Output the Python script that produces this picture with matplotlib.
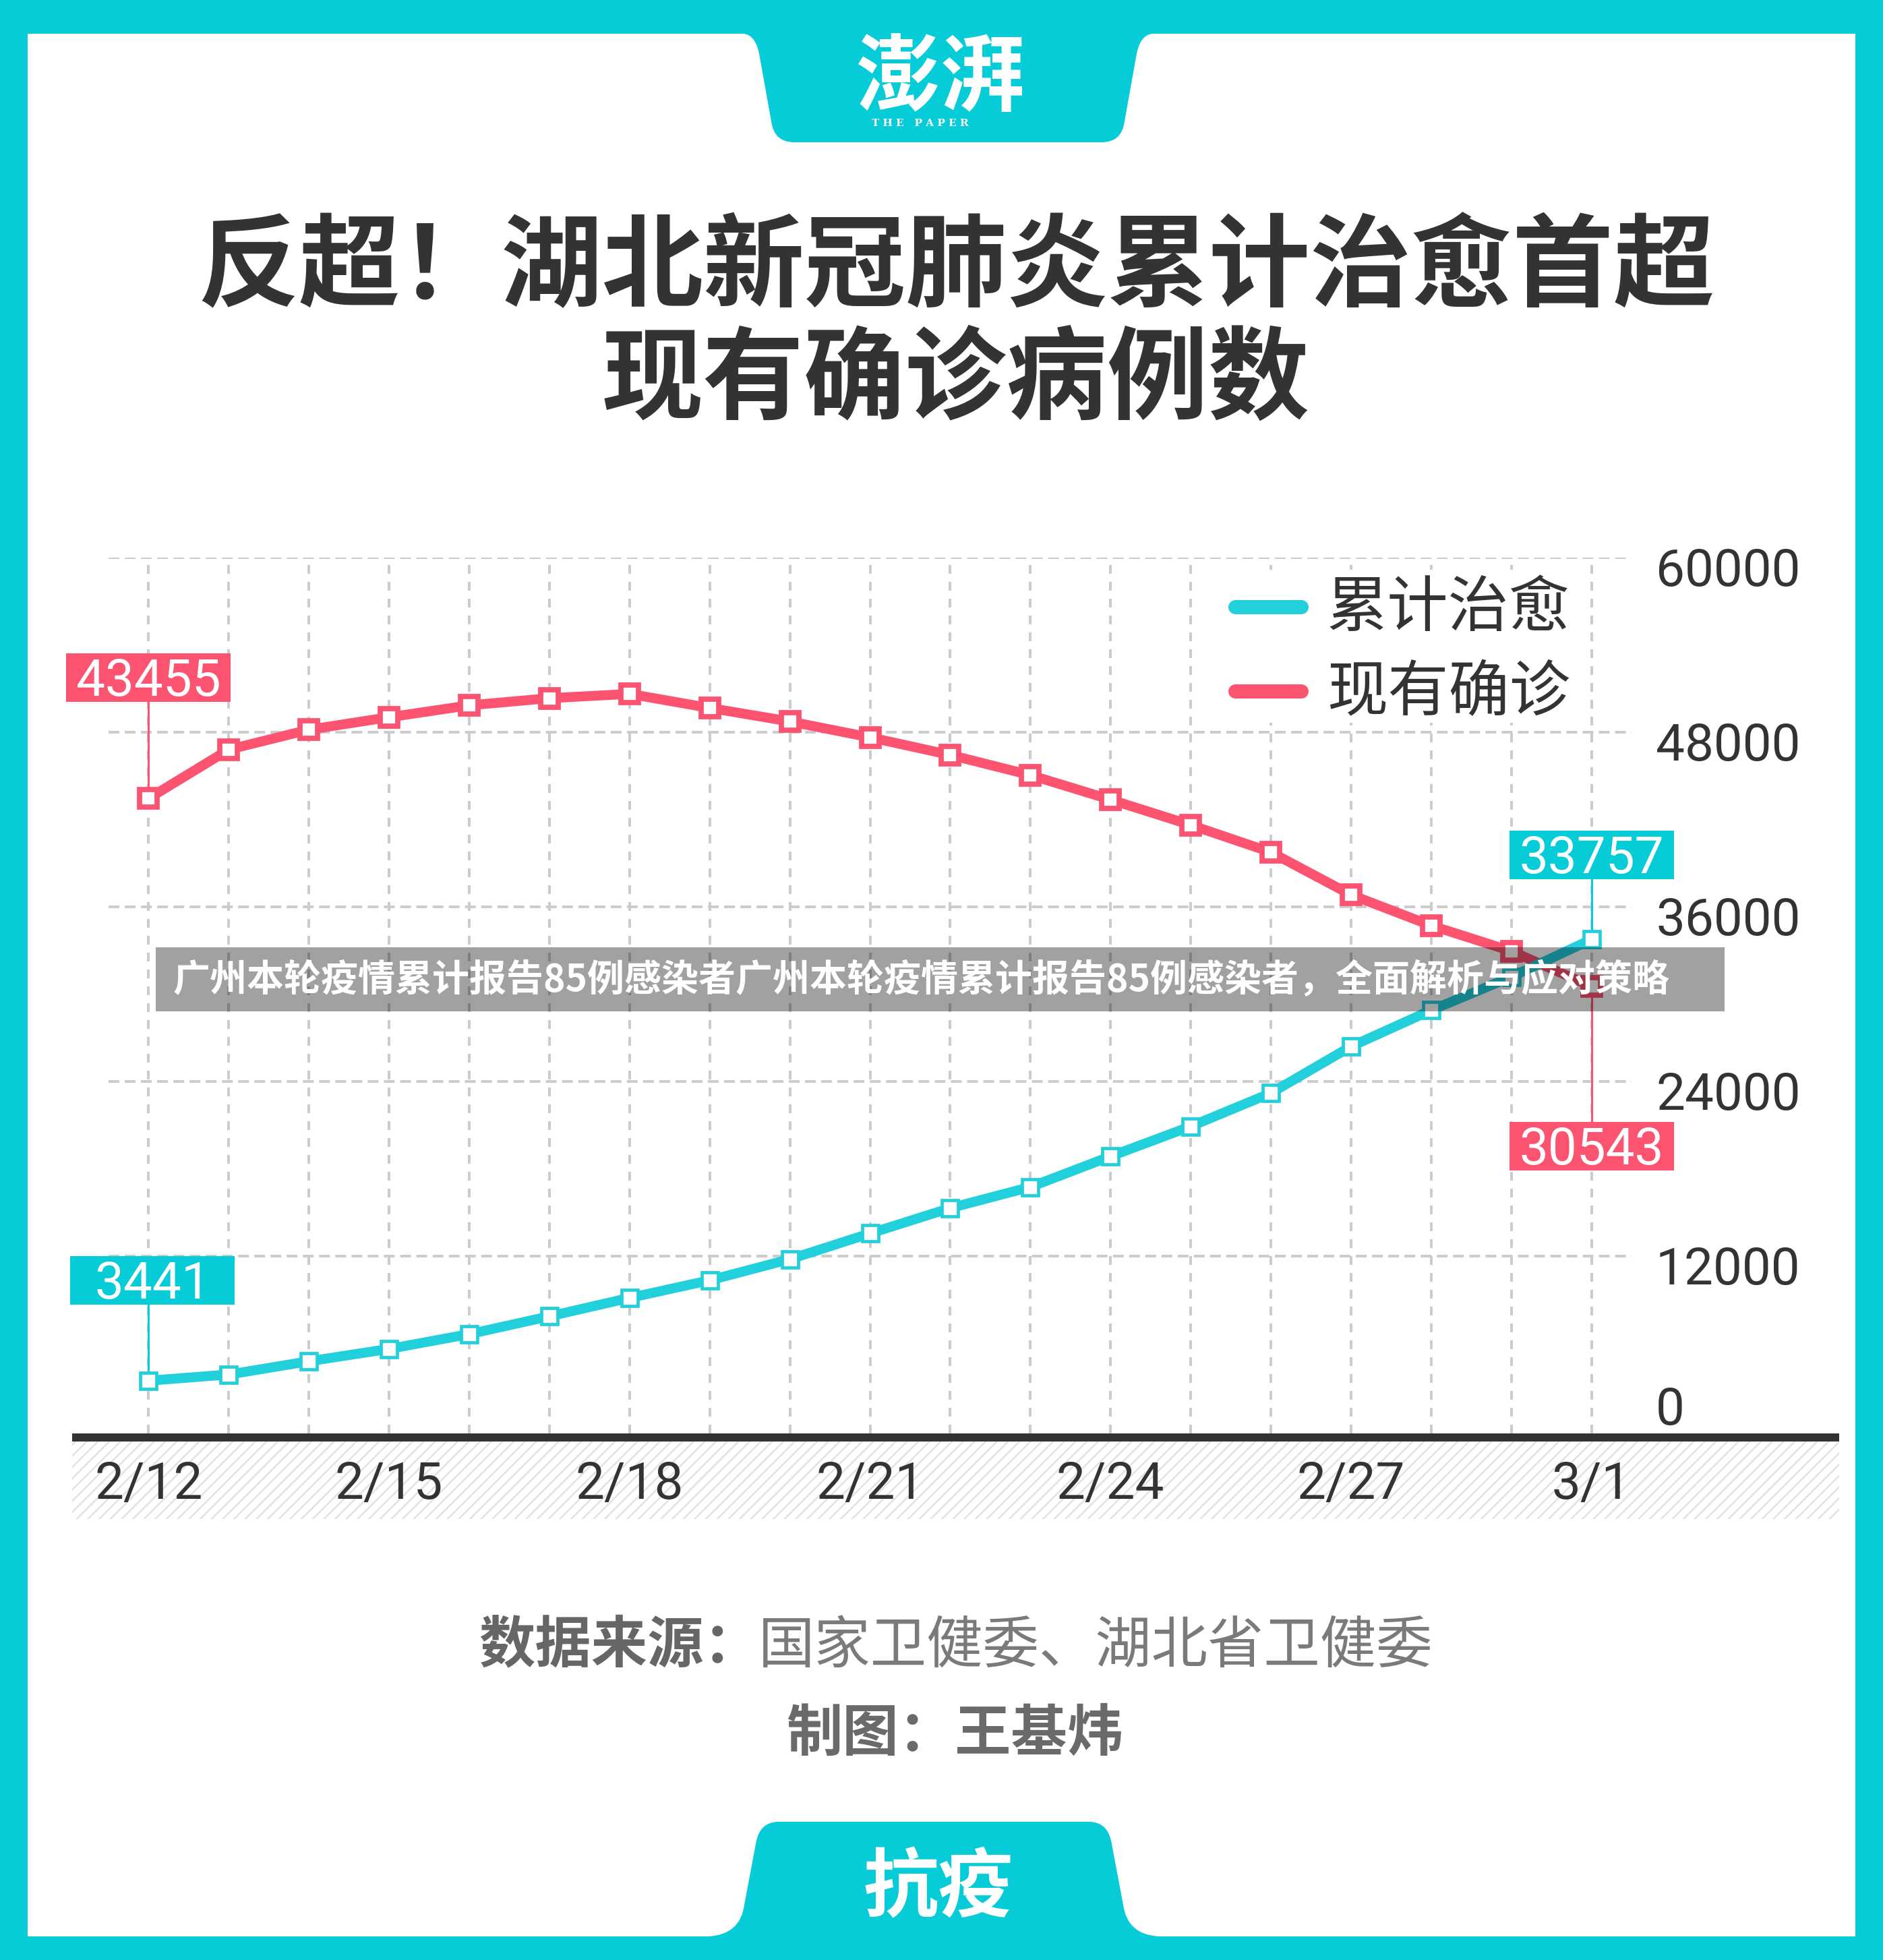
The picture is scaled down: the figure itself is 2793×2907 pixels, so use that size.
import matplotlib
matplotlib.use("Agg")
import matplotlib.pyplot as plt
from matplotlib.patches import Rectangle, PathPatch
from matplotlib.path import Path
from matplotlib.lines import Line2D
from matplotlib.transforms import Affine2D, ScaledTranslation

W, H, DPI = 2793, 2907, 100

# Data (Hubei, Feb 12 - Mar 1)
dates = ["2/12", "2/13", "2/14", "2/15", "2/16", "2/17", "2/18", "2/19", "2/20", "2/21",
         "2/22", "2/23", "2/24", "2/25", "2/26", "2/27", "2/28", "2/29", "3/1"]
cured = [3441, 3862, 4774, 5623, 6639, 7862, 9128, 10337, 11788, 13557,
         15299, 16748, 18854, 20912, 23200, 26403, 28895, 31187, 33757]
current = [43455, 46806, 48175, 49030, 49847, 50338, 50633, 49665, 48739, 47647,
           46439, 45054, 43369, 41625, 39755, 36829, 34715, 32959, 30543]
tick_dates = ["2/12", "2/15", "2/18", "2/21", "2/24", "2/27", "3/1"]
y_ticks = [0, 12000, 24000, 36000, 48000, 60000]
series_names = ["累计治愈", "现有确诊"]

# Style
TEAL = "#06ccd8"
CYAN = "#22d0dc"
RED = "#fc5370"
DARK = "#333333"
GRID = "#cccccc"
CJK = ["Noto Sans CJK SC", "DejaVu Sans"]
NUM = ["Roboto", "DejaVu Sans"]

plt.rcParams["font.family"] = CJK
plt.rcParams["lines.scale_dashes"] = False
plt.rcParams["hatch.linewidth"] = 1.8

fig = plt.figure(figsize=(W / DPI, H / DPI), dpi=DPI)
fig.patch.set_facecolor(TEAL)

# background layer, pixel coords with y pointing down
bg = fig.add_axes([0, 0, 1, 1], zorder=0)
bg.set_xlim(0, W)
bg.set_ylim(H, 0)
bg.axis("off")
bg.add_patch(Rectangle((41, 50), 2711, 2822, fc="white", ec="none"))


def tab(verts, codes):
    bg.add_patch(PathPatch(Path(verts, codes), fc=TEAL, ec="none"))


M, L, C, Z = Path.MOVETO, Path.LINETO, Path.CURVE3, Path.CLOSEPOLY
cx = 1406
tab([(cx - 320, 40), (cx - 303, 50), (cx - 284, 52), (cx - 279, 85), (cx - 262, 180),
     (cx - 258, 211), (cx - 228, 211), (cx + 228, 211), (cx + 258, 211), (cx + 262, 180),
     (cx + 279, 85), (cx + 284, 52), (cx + 303, 50), (cx + 320, 40), (cx - 320, 40)],
    [M, L, C, C, L, C, C, L, C, C, L, C, C, L, Z])
cx = 1385
tab([(cx - 345, 2885), (cx - 335, 2872), (cx - 287, 2870), (cx - 281, 2825), (cx - 264, 2735),
     (cx - 259, 2702), (cx - 230, 2702), (cx + 230, 2702), (cx + 259, 2702), (cx + 264, 2735),
     (cx + 281, 2825), (cx + 287, 2870), (cx + 335, 2872), (cx + 345, 2885), (cx - 345, 2885)],
    [M, L, C, C, L, C, C, L, C, C, L, C, C, L, Z])

bg.text(1395, 118, "澎湃", ha="center", va="center", fontsize=90, fontweight="bold", color="white")
bg.text(1365, 183, "T H E   P A P E R", ha="center", va="center", fontsize=11,
        fontweight="bold", color="white", family="DejaVu Serif")
bg.text(1392, 2802, "抗疫", ha="center", va="center", fontsize=80, fontweight="bold", color="white")

# title
bg.text(1418, 399, "反超！湖北新冠肺炎累计治愈首超", ha="center", va="center",
        fontsize=108, fontweight="bold", color=DARK)
bg.text(1418, 566, "现有确诊病例数", ha="center", va="center",
        fontsize=108, fontweight="bold", color=DARK)

# footer
bg.text(710, 2442, "数据来源：", ha="left", va="center", fontsize=60, fontweight="bold", color="#666666")
bg.text(1125, 2442, "国家卫健委、湖北省卫健委", ha="left", va="center", fontsize=60, color="#7a7a7a")
bg.text(1416, 2572, "制图：王基炜", ha="center", va="center", fontsize=60, fontweight="bold", color="#6a6a6a")

# baseline and hatched strip under the plot
bg.add_patch(Rectangle((107, 2126), 2621, 12, fc=DARK, ec="none"))
bg.add_patch(Rectangle((107, 2138), 2621, 115, fc="white", ec="#e2e2e2", lw=0, hatch="//"))

# chart
ax = fig.add_axes([161 / W, 1 - 2126 / H, (2420 - 161) / W, (2126 - 827) / H], zorder=1)
ax.set_facecolor("none")
x = list(range(len(dates)))

ax.plot(x, current, color=RED, lw=10.5, marker="s", ms=18.2, mew=5.6, mfc="white", mec=RED,
        zorder=3, clip_on=False)
ax.plot(x, cured, color=CYAN, lw=10.5, marker="s", ms=16.7, mew=3.4, mfc="white", mec=CYAN,
        zorder=4, clip_on=False)


def value_tag(i, v, color, dy, dx=0):
    # box of fixed pixel size, dy pixels above (or below) the point
    off = Affine2D() + ScaledTranslation(i, v, ax.transData)
    ax.add_patch(Rectangle((dx - 122, dy - 36), 244, 72, transform=off, fc=color, ec="none",
                           clip_on=False, zorder=5))
    end = dy - 36 if dy > 0 else dy + 36
    ax.add_line(Line2D([0, 0], [0, end], transform=off, color=color, lw=2.2, clip_on=False, zorder=2))
    ax.text(dx, dy - 27, f"{v}", transform=off, ha="center", va="baseline", fontsize=55,
            color="white", family=NUM, zorder=6)


value_tag(0, current[0], RED, 179)
value_tag(0, cured[0], TEAL, 149, dx=6)
value_tag(len(x) - 1, cured[-1], TEAL, 125)
value_tag(len(x) - 1, current[-1], RED, -237)

ax.set_xlim(-0.5, len(x) - 0.5)
ax.set_ylim(-185, 60000)
ax.set_xticks(x)
ax.set_xticklabels([d if d in tick_dates else "" for d in dates], fontsize=55, color=DARK, family=NUM)
for lab in ax.get_xticklabels():
    lab.set_va("baseline")
ax.tick_params(axis="x", length=0, pad=69.8)
ax.set_yticks(y_ticks[1:])
ax.tick_params(axis="y", length=0, labelleft=False, labelright=False)
ax.grid(axis="y", color=GRID, lw=2.9, linestyle=(0, (11.5, 5.8)))
ax.grid(axis="x", color=GRID, lw=2.9, linestyle=(0, (9.4, 8.6)))
for s in ax.spines.values():
    s.set_visible(False)

ytrans = ax.get_yaxis_transform()
for v in y_ticks:
    dy = 9.5 if v == 0 else -41.5
    ax.text(1 + 36 / 2259, v, f"{v}", ha="left", va="baseline", fontsize=55, color=DARK, family=NUM,
            transform=ytrans + ScaledTranslation(0, dy / DPI, fig.dpi_scale_trans), clip_on=False)

# overlay layer: legend and banner
fg = fig.add_axes([0, 0, 1, 1], zorder=3)
fg.set_xlim(0, W)
fg.set_ylim(H, 0)
fg.axis("off")
fg.patch.set_alpha(0)

fg.add_patch(Rectangle((1800, 845), 540, 227, fc="white", ec="none"))
for name, color, yy in zip(series_names, [CYAN, RED], [900, 1025]):
    fg.add_line(Line2D([1832, 1930], [yy, yy], lw=15.1, color=color, solid_capstyle="round"))
    fg.text(1968, yy + 4, name, ha="left", va="center", fontsize=65, color=DARK)

fg.add_patch(Rectangle((231, 1405), 2327, 95, fc="black", alpha=0.37, ec="none"))
fg.text(256, 1454, "广州本轮疫情累计报告85例感染者广州本轮疫情累计报告85例感染者，全面解析与应对策略",
        ha="left", va="center", fontsize=39.6, fontweight="bold", color="white")

fig.savefig("out.png", dpi=DPI, facecolor=fig.get_facecolor())
